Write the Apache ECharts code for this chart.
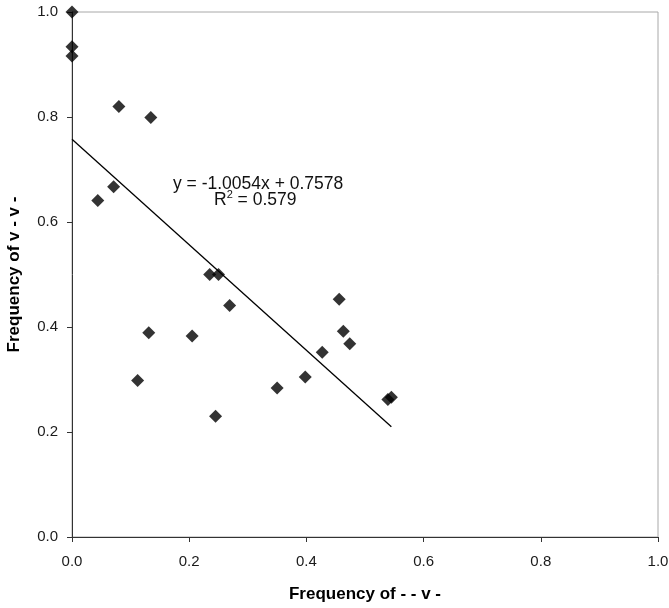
<!DOCTYPE html>
<html>
<head>
<meta charset="utf-8">
<script src="https://cdn.jsdelivr.net/npm/echarts@6/dist/echarts.min.js"></script>
<style>html,body{margin:0;padding:0;background:#fff}#c{width:669px;height:608px}</style>
</head>
<body>
<div id="c"></div>
<script>
var xValues = [0, 0, 0, 0.080, 0.1345, 0.071, 0.044, 0.235, 0.250, 0.269, 0.131, 0.205, 0.112, 0.245, 0.350, 0.398, 0.539, 0.545, 0.456, 0.463, 0.474, 0.427];
var yValues = [1.0, 0.934, 0.916, 0.820, 0.799, 0.667, 0.641, 0.500, 0.500, 0.441, 0.389, 0.383, 0.298, 0.230, 0.284, 0.305, 0.262, 0.266, 0.453, 0.392, 0.368, 0.352];
var trendX = [0, 0.545];
var trendY = [0.7578, 0.2099];
var xTicks = ['0.0', '0.2', '0.4', '0.6', '0.8', '1.0'];
var yTicks = ['0.0', '0.2', '0.4', '0.6', '0.8', '1.0'];
var xTitle = 'Frequency of - - v -';
var yTitle = 'Frequency of v - v -';
var eqText = 'y = -1.0054x + 0.7578';

var pts = xValues.map(function (x, i) { return [x, yValues[i]]; });
var trend = trendX.map(function (x, i) { return [x, trendY[i]]; });

var FF = 'Liberation Sans, Arial, sans-serif';
var chart = echarts.init(document.getElementById('c'), null, { renderer: 'canvas' });
var axisFont = { fontFamily: FF, fontSize: 15, color: '#1a1a1a' };
chart.setOption({
  animation: false,
  backgroundColor: '#fff',
  grid: { left: 72, top: 12, width: 586, height: 525, show: true, borderColor: '#a8a8a8', borderWidth: 1, containLabel: false, outerBoundsMode: 'none' },
  xAxis: {
    type: 'value', min: 0, max: 1, interval: 0.2,
    name: xTitle, nameLocation: 'middle', nameGap: 49,
    nameTextStyle: { fontFamily: FF, fontSize: 17, fontWeight: 'bold', color: '#000' },
    axisLine: { show: true, onZero: false, lineStyle: { color: '#333', width: 1 } },
    axisTick: { show: true, inside: false, length: 5, lineStyle: { color: '#333' } },
    splitLine: { show: false },
    axisLabel: Object.assign({ margin: 17, formatter: function (v) { return xTicks[Math.round(v * 5)]; } }, axisFont)
  },
  yAxis: {
    type: 'value', min: 0, max: 1, interval: 0.2,
    name: yTitle, nameLocation: 'middle', nameGap: 49, nameRotate: 90,
    nameTextStyle: { fontFamily: FF, fontSize: 17, fontWeight: 'bold', color: '#000' },
    axisLine: { show: true, onZero: false, lineStyle: { color: '#333', width: 1 } },
    axisTick: { show: true, inside: false, length: 5, lineStyle: { color: '#333' } },
    splitLine: { show: false },
    axisLabel: Object.assign({ margin: 14, formatter: function (v) { return yTicks[Math.round(v * 5)]; } }, axisFont)
  },
  series: [
    {
      type: 'line', data: trend, symbol: 'none', silent: true,
      lineStyle: { color: '#000', width: 1.3 }, z: 2
    },
    {
      type: 'scatter', data: pts, symbol: 'diamond', symbolSize: [13, 13],
      itemStyle: { color: '#000' }, z: 3, clip: false
    }
  ],
  graphic: [
    {
      type: 'text', left: 173, top: 175,
      style: { text: eqText, fontFamily: FF, fontSize: 17.5, fill: '#111' }
    },
    {
      type: 'text', left: 214, top: 189,
      style: {
        text: '{a|R}{s|2}{a| = 0.579}',
        rich: {
          a: { fontFamily: FF, fontSize: 17.5, fill: '#111', verticalAlign: 'bottom' },
          s: { fontFamily: FF, fontSize: 11, fill: '#111', verticalAlign: 'top', padding: [0, 0, 9, 0] }
        }
      }
    }
  ]
});
</script>
</body>
</html>
